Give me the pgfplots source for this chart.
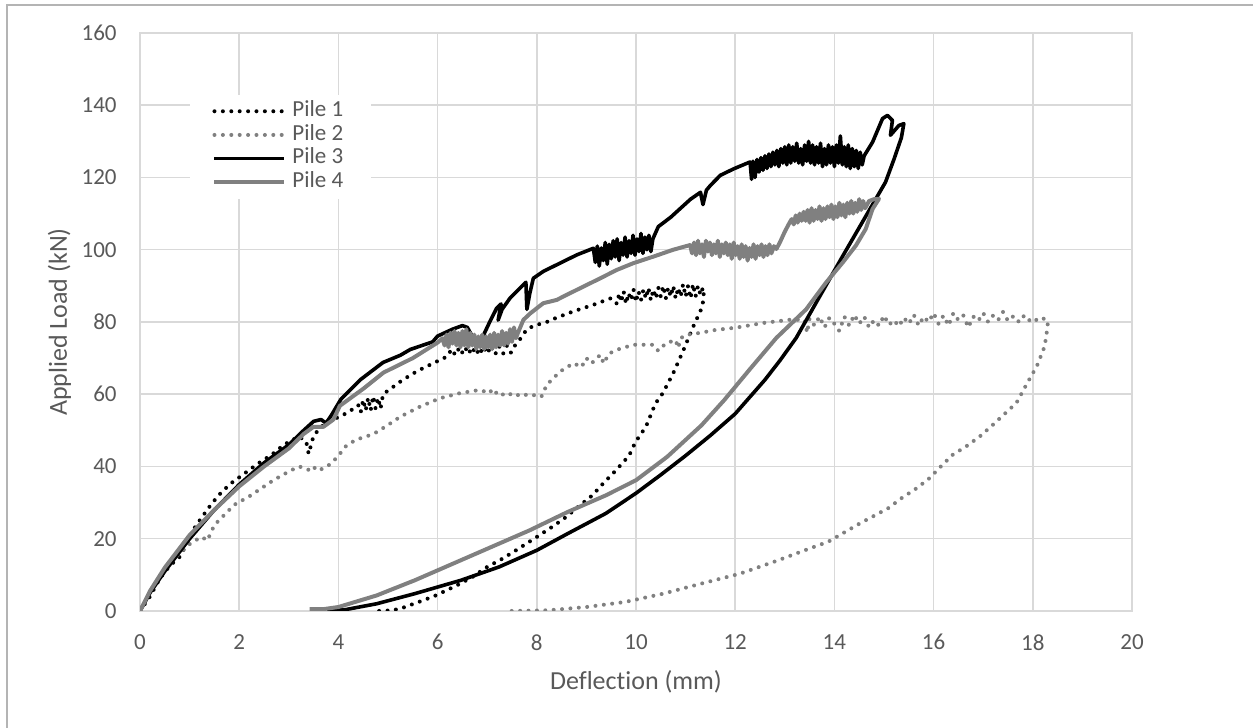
\documentclass[border=0pt]{standalone}
\usepackage{fontspec}
\setmainfont{Carlito}[Ligatures=NoCommon]
\usepackage{pgfplots}
\pgfplotsset{compat=1.18}
\definecolor{gridc}{HTML}{D9D9D9}
\definecolor{textc}{HTML}{595959}
\definecolor{serg}{HTML}{808080}
\definecolor{framec}{HTML}{B4B4B4}
\begin{document}
\begin{tikzpicture}
\useasboundingbox (0,0) rectangle (626.5bp,364bp);
\draw[framec, line width=0.8bp] (3.35bp,-10bp) -- (3.35bp,361.5bp) -- (640bp,361.5bp);
\begin{axis}[
  at={(70bp,58.5bp)}, anchor=south west,
  scale only axis, width=496bp, height=289bp,
  xmin=0, xmax=20, ymin=0, ymax=160,
  xtick={0,2,...,20}, ytick={0,20,...,160},
  grid=major, grid style={draw=gridc, line width=0.75bp},
  axis line style={draw=gridc, line width=0.75bp},
  major tick length=0pt, tick style={draw=none},
  /pgf/number format/assume math mode=true,
  ticklabel style={font=\fontsize{11.5bp}{13bp}\selectfont, text=textc, inner sep=0pt},
  xticklabel style={anchor=north, yshift=-11.5bp},
  yticklabel style={anchor=east, xshift=-11.5bp},
  xlabel={Deflection (mm)}, ylabel={Applied Load (kN)},
  label style={font=\fontsize{13bp}{15bp}\selectfont, text=textc, inner sep=0pt},
  xlabel style={at={(axis description cs:0.5,-0.135)}, anchor=base},
  ylabel style={at={(axis description cs:-0.0736,0.5)}, anchor=base},
  legend style={at={(axis cs:1.01,143.0)}, anchor=north west, draw=none, fill=white,
    inner xsep=11bp, inner ysep=2.3bp,
    font=\fontsize{11.5bp}{13bp}\selectfont, text=textc, row sep=0pt,
    nodes={inner xsep=3bp, inner ysep=0pt, text height=8.5bp, text depth=3.35bp}},
  legend cell align=left,
  legend image code/.code={\draw[#1] (0bp,0bp) -- (35bp,0bp);},
]
% Pile 1
\addplot[black, line width=2.0bp, dash pattern=on 0pt off 4.2bp, line cap=round, line join=round] coordinates {
(0,0) (0.2,4) (0.4,9) (0.6,12.5) (0.8,15) (1.0,20) (1.1,23) (1.25,26) (1.45,29.8) (1.65,33) (1.85,35.5) (2.1,38) (2.4,41) (2.65,43.2) (2.9,46) (3.2,48.3) (3.35,47) (3.4,43.5) (3.45,46) (3.5,48.5) (3.65,51) (3.9,53) (4.2,55) (4.4,57) (4.45,55) (4.5,58.5) (4.55,55.5) (4.6,59) (4.65,55.5) (4.7,59.5) (4.75,56) (4.8,59) (4.85,56) (4.9,60) (5.0,61) (5.3,64) (5.6,66.5) (5.9,68.5) (6.2,70.5) (6.28,72.5) (6.36,70.8) (6.44,73) (6.52,71) (6.6,73.2) (6.68,71) (6.76,73) (6.84,70.8) (6.92,73.2) (7.0,71.2) (7.08,73.5) (7.16,71) (7.24,73.3) (7.32,71.2) (7.4,73.5) (7.48,71.5) (7.56,73.5) (7.65,75) (7.8,78) (7.95,79) (8.2,80) (8.4,81.2) (8.75,83) (9.15,84.8) (9.5,86.6)
(9.62,85) (9.66,88) (9.70,85.5) (9.75,88.5) (9.80,85) (9.85,88) (9.90,86) (9.95,89) (10.00,85.5) (10.05,88.5) (10.10,86) (10.15,89) (10.20,86.5) (10.25,89.5) (10.30,86) (10.35,89) (10.40,86.5) (10.45,89.5) (10.50,87) (10.55,90) (10.60,86.5) (10.65,89.5) (10.70,87) (10.75,90) (10.80,86.5) (10.85,89.5) (10.90,87) (10.95,90.5) (11.00,87) (11.05,90) (11.10,86.5) (11.15,90.5) (11.20,87) (11.25,90) (11.30,87.5) (11.35,89.5) (11.37,87)
(11.33,84) (11.15,78.6) (10.95,72) (10.75,65.8) (10.54,60.3) (10.39,57.4) (10.2,51) (9.99,46.8) (9.86,43) (9.6,39) (9.35,35.5) (9.12,32) (8.85,29) (8.55,25.6) (8.31,23.3) (8.0,20.5) (7.58,16.8) (7.31,14.5) (7.0,12.2) (6.7,9.4) (6.39,7.1) (5.93,4.1) (5.62,2.5) (5.3,0.9) (5.1,0.2) (4.8,0)
};
\addlegendentry{Pile 1}
% Pile 2
\addplot[serg, line width=2.0bp, dash pattern=on 0pt off 4.2bp, line cap=round, line join=round] coordinates {
(0,0) (0.2,5) (0.4,9.5) (0.6,13) (0.8,16) (1.0,18.5) (1.15,19.8) (1.25,20.5) (1.35,19.5) (1.4,20.8) (1.5,23.8) (1.7,26.6) (1.9,29.4) (2.2,31.7) (2.45,34) (2.7,36.3) (3.0,38.6) (3.2,40) (3.35,39.5) (3.45,38.6) (3.55,40) (3.65,39.2) (3.8,40.3) (3.9,41.5) (4.0,43) (4.15,45.6) (4.35,47.4) (4.6,48.5) (4.77,49.5) (5.0,51.5) (5.25,53.8) (5.65,56.6) (6.05,58.9) (6.45,60.3) (6.85,61.2) (7.05,60.3) (7.1,61.5) (7.25,59.5) (7.4,60.5) (7.55,59.4) (7.7,60.2) (7.85,59.5) (8.05,60) (8.1,59.5) (8.2,62.6) (8.47,66.3) (8.74,68.6) (8.9,67.5) (9.0,70) (9.1,68.5) (9.28,70.9) (9.35,68.5) (9.45,71.2) (9.61,72.3) (9.95,73.7) (10.35,73.7) (10.45,72) (10.6,74.1) (10.8,75) (10.85,72.8) (10.9,75.5) (11.0,76.4) (11.3,77) (11.6,77.8) (12.0,78.4) (12.6,79.8) (13.15,80.7) (13.4,80.5) (13.45,77) (13.5,81) (13.6,79) (13.7,81.5) (13.8,78.5) (13.9,81.2) (14.0,79.5) (14.1,77.5) (14.2,81.5) (14.3,79) (14.4,82) (14.5,79.5) (14.6,81.5) (14.7,78.5) (14.8,80.5) (14.9,79) (15.0,81.8) (15.1,79.2) (15.2,80.5) (15.3,78.8) (15.4,81.2) (15.5,79.5) (15.6,82) (15.7,79) (15.8,81.5) (15.9,80) (16.0,82.5) (16.1,79.5) (16.2,81.8) (16.3,79) (16.4,82.5) (16.5,80.5) (16.6,81.8) (16.7,78.5) (16.8,81.5) (16.9,80.3) (17.0,82.5) (17.1,80) (17.2,81.8) (17.3,80.5) (17.4,82.8) (17.5,80.3) (17.6,81.5) (17.7,80) (17.8,81.8) (17.9,80.2) (18.0,81.2) (18.1,80.3) (18.2,81) (18.3,80.5) (18.3,78.8) (18.24,73.3) (18.08,67.7) (17.9,63.4) (17.67,57.6) (17.41,54.3) (17.2,51.6) (16.93,48.3) (16.66,45.6) (16.39,43.3) (16.16,40.2) (15.92,36.8) (15.66,34) (15.35,31.2) (15.09,28.5) (14.78,26.2) (14.52,24.3) (14.18,21.6) (13.88,19.2) (13.4,16.8) (12.86,14) (12.09,10.3) (11.32,7.6) (10.55,4.8) (9.78,2.5) (9.0,1.1) (8.24,0.2) (7.47,0)
};
\addlegendentry{Pile 2}
% Pile 3
\addplot[black, line width=1.8bp, line join=round] coordinates {
(0,0) (0.2,5) (0.5,11) (1.0,20) (1.5,28) (2.0,35) (2.5,41) (3.0,46) (3.3,50) (3.5,52.5) (3.65,53) (3.75,52) (3.85,54) (4.05,58.6) (4.45,64.1) (4.9,68.8) (5.25,70.8) (5.45,72.4) (5.9,74.5) (6.0,76.1) (6.3,78) (6.5,79) (6.6,78.5) (6.7,76) (6.85,75) (6.93,76.5) (7.05,80) (7.19,83.8) (7.28,85) (7.22,80.5) (7.3,83.5) (7.46,86.6) (7.73,90.3) (7.78,91) (7.8,83.5) (7.86,88) (7.93,92.1) (8.13,94) (8.47,96.3) (8.81,98.6) (9.14,100.4)
(9.18,96.5) (9.22,101) (9.26,95.5) (9.30,100.5) (9.34,97) (9.38,102) (9.42,96) (9.46,101.5) (9.50,97.5) (9.54,102.5) (9.58,98) (9.62,103) (9.66,97) (9.70,102) (9.74,98.5) (9.78,103.5) (9.82,98) (9.86,102.5) (9.90,99) (9.94,104) (9.98,98.5) (10.02,103) (10.06,99.5) (10.10,104.5) (10.14,99) (10.18,103.5) (10.22,100) (10.26,104) (10.30,99.5) (10.34,103)
(10.45,106.4) (10.7,109) (10.9,111.5) (11.1,114) (11.3,115.9) (11.35,112.5) (11.42,116.5) (11.5,117.8) (11.7,120.6) (11.97,122.4)
(12.30,124.3) (12.33,119.5) (12.36,124.5) (12.40,120) (12.44,125) (12.48,121.5) (12.52,125.5) (12.56,122) (12.60,126) (12.64,122.5) (12.68,126.5) (12.72,123) (12.76,127) (12.80,123.5) (12.84,127.5) (12.88,123) (12.92,128) (12.96,124) (13.00,128.5) (13.04,123.5) (13.08,129) (13.12,124) (13.16,128.5) (13.20,124.5) (13.24,129.5) (13.28,124) (13.32,128) (13.36,123.5) (13.40,129) (13.44,124.5) (13.48,130) (13.52,124) (13.56,129) (13.60,123.5) (13.64,128.5) (13.68,124) (13.72,129.5) (13.76,123) (13.80,128) (13.84,123.5) (13.88,129) (13.92,124) (13.96,128.5) (14.00,123) (14.04,129) (14.08,124) (14.12,131.5) (14.16,123.5) (14.20,128.5) (14.24,123) (14.28,129) (14.32,122.5) (14.36,128) (14.40,123) (14.44,127.5) (14.48,122.5) (14.52,127) (14.56,123.5) (14.60,126)
(14.77,129.8) (14.97,136.3) (15.07,137.2) (15.17,135.8) (15.13,131.7) (15.3,134.4) (15.4,134.9) (15.35,131) (15.2,125) (15.03,118.7) (14.6,108.5) (14.17,98.3) (13.7,87) (13.23,75.6) (12.9,69.3) (12.6,64) (12.3,59.3) (12.0,54.6) (11.5,48.6) (11.0,43) (10.5,37.7) (10.0,32.6) (9.39,27) (8.62,21.4) (8.0,16.8) (7.24,12.2) (6.47,8.5) (5.54,4.8) (4.77,2) (4.15,0.4) (3.77,0)
};
\addlegendentry{Pile 3}
% Pile 4
\addplot[serg, line width=2.0bp, line join=round] coordinates {
(0,0) (0.2,5.5) (0.5,12) (1.0,21) (1.5,28) (2.0,34.5) (2.5,40) (3.0,45) (3.3,49) (3.5,51) (3.7,51) (3.9,53) (4.03,56.8) (4.5,61.5) (4.91,66) (5.5,70) (6.0,74.3)
(6.10,75.5) (6.14,73.5) (6.18,76.5) (6.22,73) (6.26,77) (6.30,74) (6.34,77.5) (6.38,73.5) (6.42,77) (6.46,73) (6.50,77.5) (6.54,73.5) (6.58,78) (6.62,73) (6.66,77) (6.70,73.5) (6.74,76.5) (6.78,72.5) (6.82,76) (6.86,73) (6.90,76.5) (6.94,72.5) (6.98,76) (7.02,73) (7.06,76.5) (7.10,72.5) (7.14,77) (7.18,73) (7.22,76.5) (7.26,73.5) (7.30,77.5) (7.34,73.5) (7.38,77) (7.42,74) (7.46,78) (7.50,74.5) (7.54,78.5) (7.58,75.5) (7.62,77)
(7.73,80.6) (7.87,82.4) (8.13,85.2) (8.4,86.1) (8.6,87.5) (8.94,89.8) (9.28,92.1) (9.61,94.4) (9.95,96.3) (10.35,98.1) (10.75,100) (11.09,101.3)
(11.13,99) (11.17,102) (11.21,98.5) (11.25,102.5) (11.29,99) (11.33,101.5) (11.37,98) (11.41,102.5) (11.45,99.5) (11.49,102) (11.53,98.5) (11.57,101.5) (11.61,99) (11.65,102.5) (11.69,98) (11.73,101.5) (11.77,99) (11.81,102) (11.85,98.5) (11.89,101.5) (11.93,97.5) (11.97,102) (12.01,98.5) (12.05,101) (12.09,97.5) (12.13,101.5) (12.17,98) (12.21,101) (12.25,97) (12.29,100.5) (12.33,98) (12.37,101.5) (12.41,97.5) (12.45,101) (12.49,98.5) (12.53,101.5) (12.57,98) (12.61,101) (12.65,98.5) (12.69,101.5) (12.73,99) (12.78,101) (12.83,100.2)
(12.9,102) (13.0,105) (13.1,107.6)
(13.14,108.5) (13.18,107) (13.22,109.5) (13.26,107.5) (13.30,110) (13.34,108) (13.38,110.5) (13.42,108) (13.46,111) (13.50,107.5) (13.54,111.5) (13.58,108) (13.62,111) (13.66,108.5) (13.70,112) (13.74,108) (13.78,111.5) (13.82,108.5) (13.86,112) (13.90,109) (13.94,112.5) (13.98,108.5) (14.02,112) (14.06,109) (14.10,113) (14.14,109.5) (14.18,112.5) (14.22,109) (14.26,113) (14.30,110) (14.34,113.5) (14.38,110) (14.42,113) (14.46,110.5) (14.50,114) (14.54,111) (14.58,113.5) (14.62,111.5) (14.7,113.5) (14.8,114) (14.9,114.1)
(14.77,111.3) (14.63,105.7) (14.43,101.1) (14.17,96.5) (13.83,90.9) (13.43,83.5) (12.83,75.6) (12.3,67) (11.78,58.4) (11.32,51.4) (10.63,42.7) (10.0,36.2) (9.39,32) (8.62,27.4) (7.85,22.3) (7.08,17.7) (6.31,13.1) (5.54,8.5) (4.77,4.3) (4.0,1.1) (3.69,0.5) (3.42,0.5)
};
\addlegendentry{Pile 4}
\end{axis}
\end{tikzpicture}
\end{document}
